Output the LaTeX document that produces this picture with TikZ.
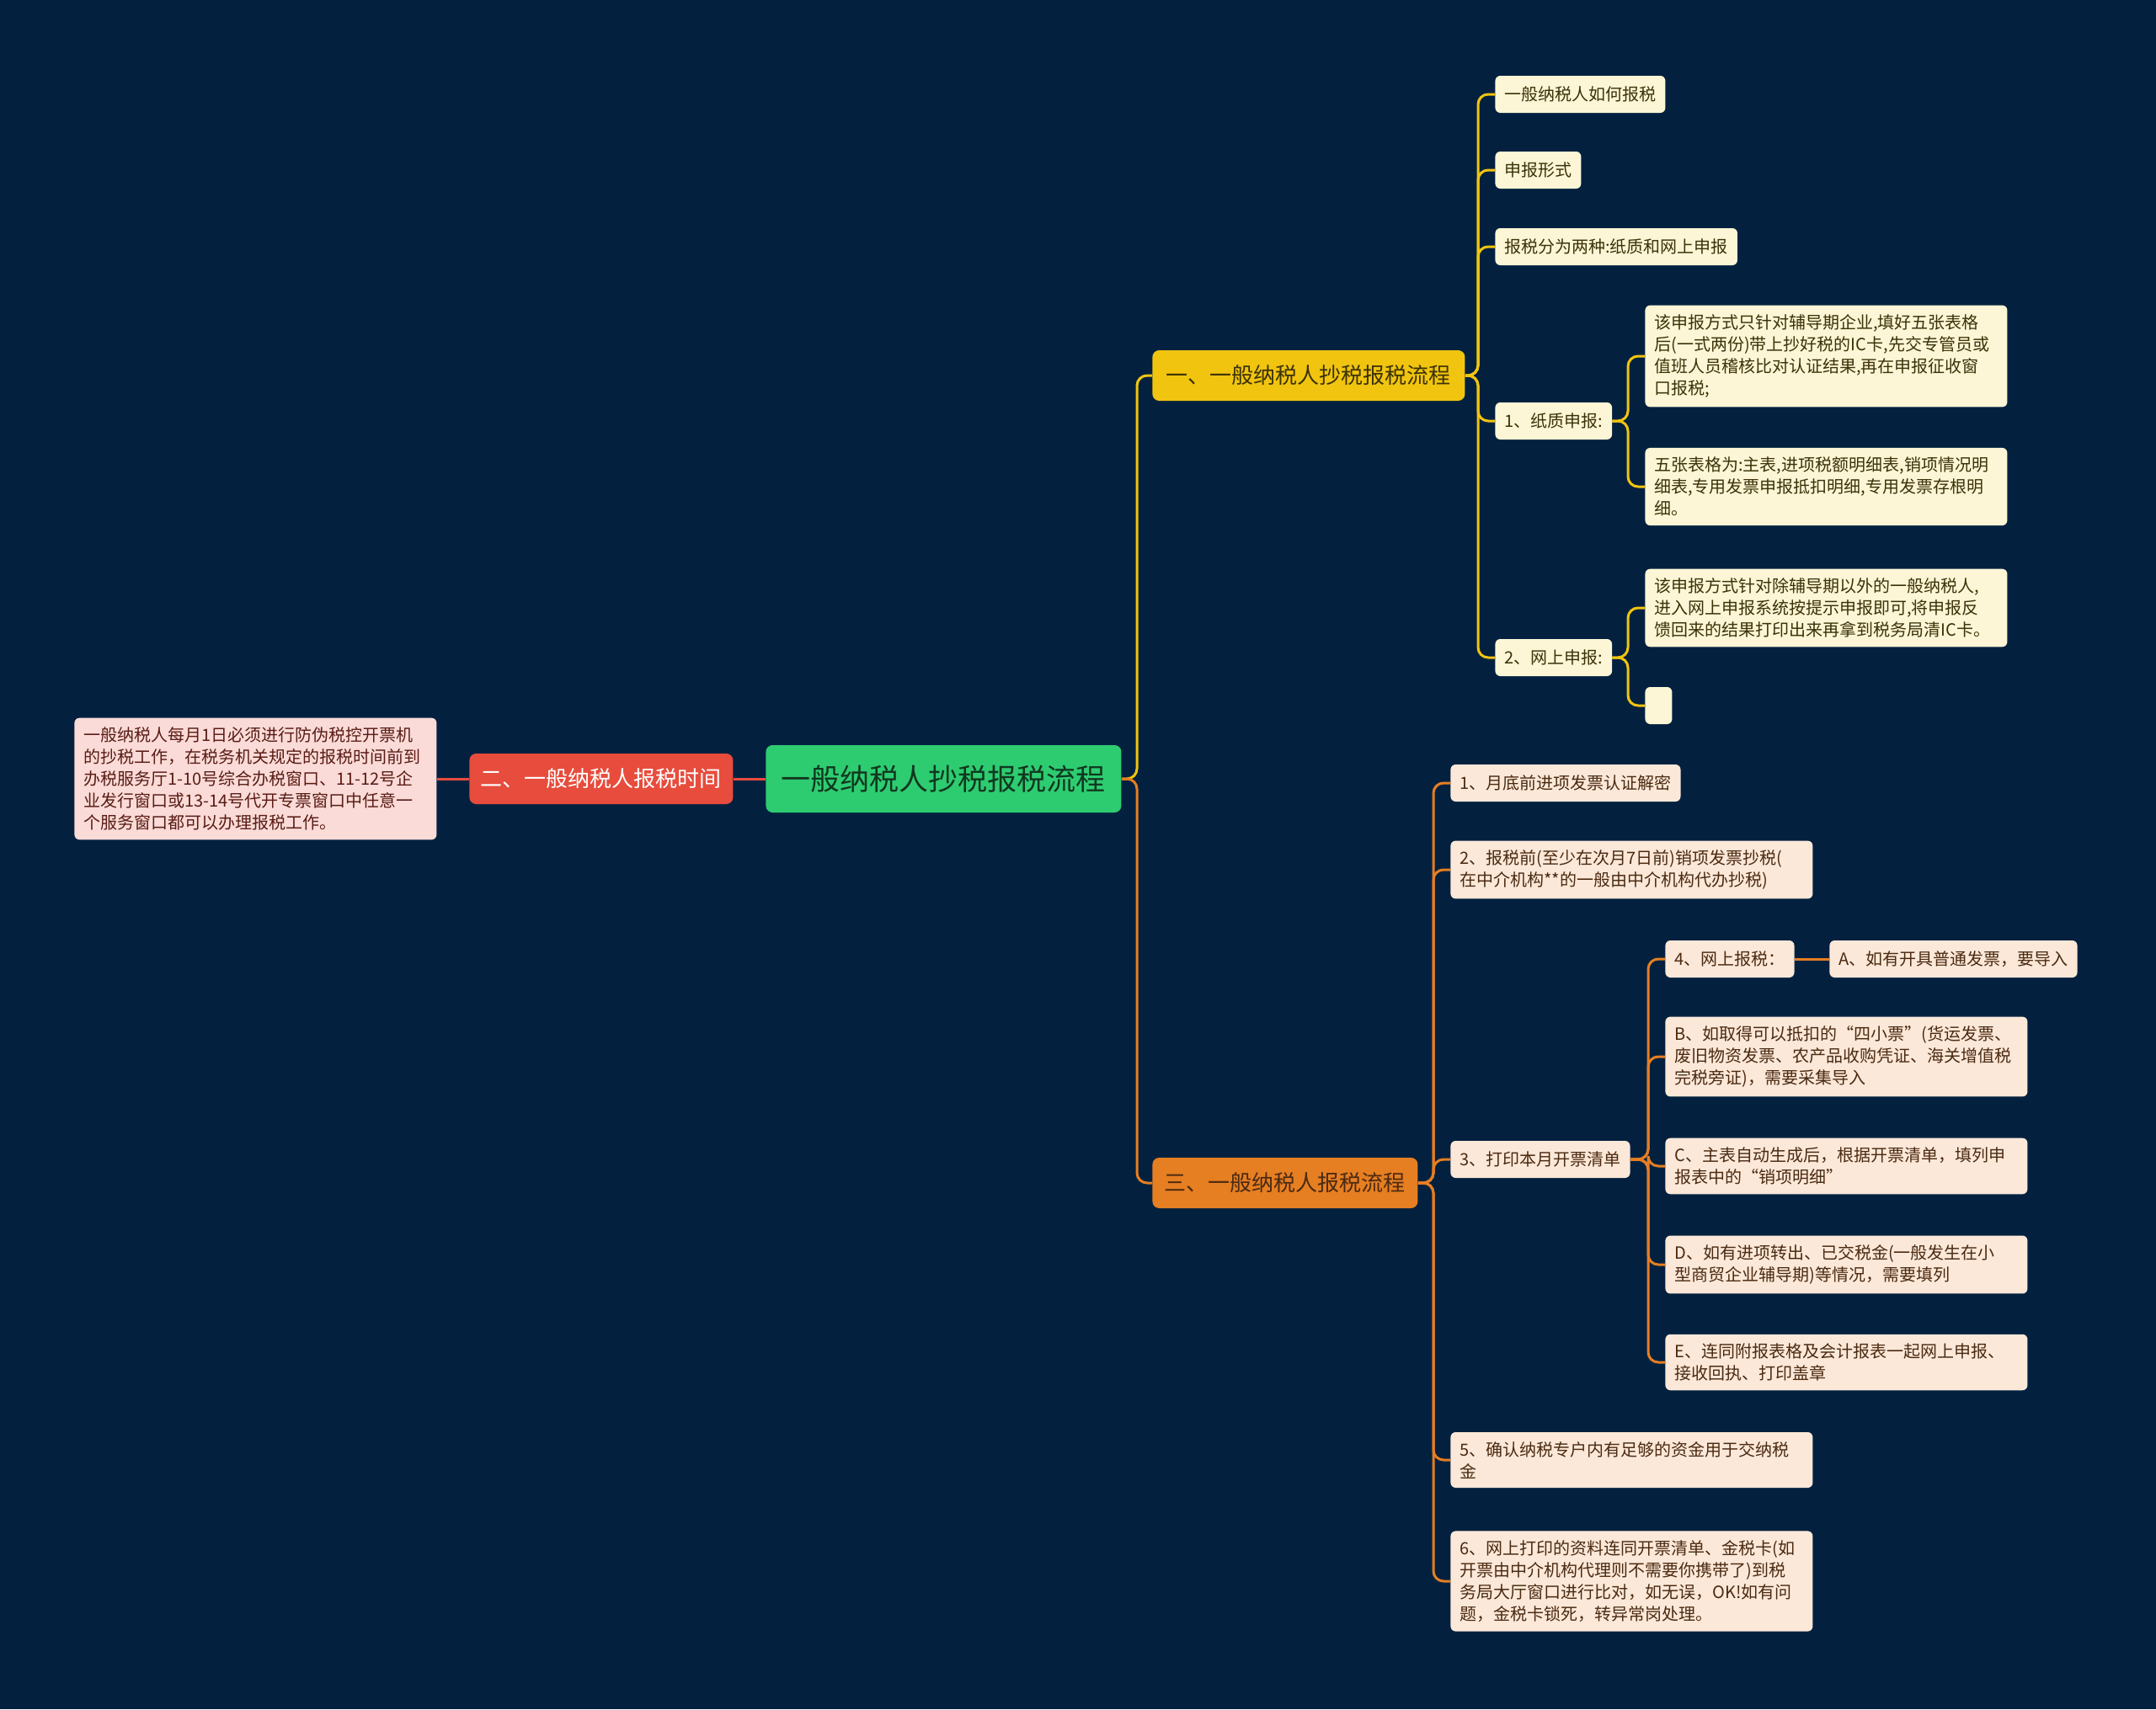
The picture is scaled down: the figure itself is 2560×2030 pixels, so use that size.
\documentclass[tikz,border=0pt]{standalone}
\usepackage{fontspec}
\setmainfont{Noto Sans CJK SC}
\usepackage{tikz}
\usetikzlibrary{positioning,calc}
\definecolor{bgnavy}{HTML}{03213F}
\definecolor{rootgreen}{HTML}{2ECC71}
\definecolor{rootink}{HTML}{10381F}
\definecolor{branchy}{HTML}{F1C40F}
\definecolor{brancho}{HTML}{E67E22}
\definecolor{branchr}{HTML}{E74C3C}
\definecolor{ycream}{HTML}{FDF6D6}
\definecolor{yink}{HTML}{3B3208}
\definecolor{opeach}{HTML}{FCE8D8}
\definecolor{oink}{HTML}{4A2A12}
\definecolor{rpink}{HTML}{FADBD8}
\definecolor{rink}{HTML}{5A1C14}

\begin{document}
\begin{tikzpicture}[x=0.5pt,y=-0.5pt]
    \tikzset{
      rootbox/.style={anchor=west,rounded corners=4pt,fill=rootgreen,text=rootink,minimum width=211pt,minimum height=40pt,font=\fontsize{17.5}{20}\selectfont},
      mainy/.style={anchor=west,rounded corners=4pt,fill=branchy,text=yink,minimum width=185.5pt,minimum height=30pt,font=\fontsize{13}{15}\selectfont},
      maino/.style={anchor=west,rounded corners=4pt,fill=brancho,text=oink,minimum width=157.5pt,minimum height=30pt,font=\fontsize{13}{15}\selectfont},
      mainr/.style={anchor=west,rounded corners=4pt,fill=branchr,text=white,minimum width=156.5pt,minimum height=30pt,font=\fontsize{13}{15}\selectfont},
      leaf/.style={anchor=west,rounded corners=3pt,inner xsep=5.5pt,inner ysep=5.5pt,minimum height=22pt,align=left,font=\fontsize{10}{13}\selectfont},
      yleaf/.style={leaf,fill=ycream,text=yink},
      oleaf/.style={leaf,fill=opeach,text=oink},
      rleaf/.style={leaf,fill=rpink,text=rink},
      wide/.style={text width=204pt},
      ylink/.style={draw=branchy,line width=1.5pt,rounded corners=6pt},
      olink/.style={draw=brancho,line width=1.5pt,rounded corners=6pt},
      rlink/.style={draw=branchr,line width=1.5pt}
    }
    \fill[bgnavy] (0,0) rectangle (2560,2030);
    \node[rootbox] (root) at (909,925) {一般纳税人抄税报税流程};
    \node[mainr] (rb) at (557,925) {二、一般纳税人报税时间};
    \node[rleaf,wide] (time) at (88,925) {一般纳税人每月1日必须进行防伪税控开票机\\的抄税工作，在税务机关规定的报税时间前到\\办税服务厅1-10号综合办税窗口、11-12号企\\业发行窗口或13-14号代开专票窗口中任意一\\个服务窗口都可以办理报税工作。};
    \node[mainy] (yb) at (1368,446) {一、一般纳税人抄税报税流程};
    \node[maino] (ob) at (1368,1405) {三、一般纳税人报税流程};
    \node[yleaf] (how) at (1775,112) {一般纳税人如何报税};
    \node[yleaf] (form) at (1775,202) {申报形式};
    \node[yleaf] (kinds) at (1775,293) {报税分为两种:纸质和网上申报};
    \node[yleaf] (paper) at (1775,500) {1、纸质申报:};
    \node[yleaf] (online) at (1775,781) {2、网上申报:};
    \node[yleaf,wide] (paper1) at (1953,423) {该申报方式只针对辅导期企业,填好五张表格\\后(一式两份)带上抄好税的IC卡,先交专管员或\\值班人员稽核比对认证结果,再在申报征收窗\\口报税;};
    \node[yleaf,wide] (paper2) at (1953,578) {五张表格为:主表,进项税额明细表,销项情况明\\细表,专用发票申报抵扣明细,专用发票存根明\\细。};
    \node[yleaf,wide] (online1) at (1953,722) {该申报方式针对除辅导期以外的一般纳税人,\\进入网上申报系统按提示申报即可,将申报反\\馈回来的结果打印出来再拿到税务局清IC卡。};
    \node[yleaf,minimum width=16pt] (online2) at (1953,838) {};
    \node[oleaf] (st1) at (1722,930) {1、月底前进项发票认证解密};
    \node[oleaf,wide] (st2) at (1722,1033) {2、报税前(至少在次月7日前)销项发票抄税(\\在中介机构**的一般由中介机构代办抄税)};
    \node[oleaf] (st3) at (1722,1377) {3、打印本月开票清单};
    \node[oleaf,wide] (st5) at (1722,1734) {5、确认纳税专户内有足够的资金用于交纳税\\金};
    \node[oleaf,wide] (st6) at (1722,1878) {6、网上打印的资料连同开票清单、金税卡(如\\开票由中介机构代理则不需要你携带了)到税\\务局大厅窗口进行比对，如无误，OK!如有问\\题，金税卡锁死，转异常岗处理。};
    \node[oleaf] (st4) at (1977,1139) {4、网上报税：};
    \node[oleaf] (sa) at (2172,1139) {A、如有开具普通发票，要导入};
    \node[oleaf,wide] (sb) at (1977,1255) {B、如取得可以抵扣的“四小票”(货运发票、\\废旧物资发票、农产品收购凭证、海关增值税\\完税旁证)，需要采集导入};
    \node[oleaf,wide] (sc) at (1977,1385) {C、主表自动生成后，根据开票清单，填列申\\报表中的“销项明细”};
    \node[oleaf,wide] (sd) at (1977,1502) {D、如有进项转出、已交税金(一般发生在小\\型商贸企业辅导期)等情况，需要填列};
    \node[oleaf,wide] (se) at (1977,1618) {E、连同附报表格及会计报表一起网上申报、\\接收回执、打印盖章};
    \draw[rlink] (root.west) -- (rb.east);
    \draw[rlink] (rb.west) -- (time.east);
    \draw[ylink] (root.east) -| ([xshift=-9pt]yb.west) -- (yb.west);
    \draw[olink] (root.east) -| ([xshift=-9pt]ob.west) -- (ob.west);
    \foreach \kid in {how,form,kinds,paper,online}
      \draw[ylink] (yb.east) -| ([xshift=-10pt]\kid.west) -- (\kid.west);
    \foreach \kid in {paper1,paper2}
      \draw[ylink] (paper.east) -| ([xshift=-10pt]\kid.west) -- (\kid.west);
    \foreach \kid in {online1,online2}
      \draw[ylink] (online.east) -| ([xshift=-10pt]\kid.west) -- (\kid.west);
    \foreach \kid in {st1,st2,st3,st5,st6}
      \draw[olink] (ob.east) -| ([xshift=-10pt]\kid.west) -- (\kid.west);
    \foreach \kid in {st4,sb,sc,sd,se}
      \draw[olink] (st3.east) -| ([xshift=-10pt]\kid.west) -- (\kid.west);
    \draw[olink] (st4.east) -- (sa.west);
\end{tikzpicture}
\end{document}
